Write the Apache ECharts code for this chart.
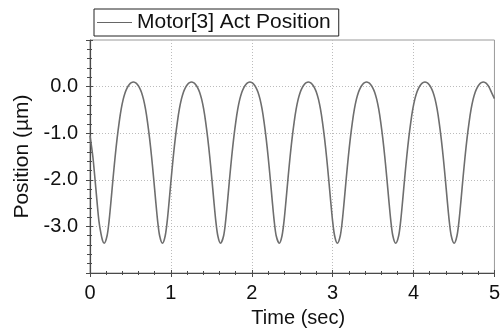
<!DOCTYPE html>
<html>
<head>
<meta charset="utf-8">
<script src="https://cdn.jsdelivr.net/npm/echarts@6/dist/echarts.min.js"></script>
<style>
  html, body { margin: 0; padding: 0; background: #fff; }
  #chart { width: 503px; height: 334px; }
</style>
</head>
<body>
<div id="chart"></div>
<script>
// Motor[3] actual position trace, sampled points (time in seconds, position in µm)
const timeSec = [
  0.000, 0.035, 0.060, 0.085, 0.110, 0.135, 0.155, 0.175,
  0.211, 0.236, 0.261, 0.286, 0.311, 0.336, 0.361, 0.386, 0.411, 0.436, 0.461, 0.486, 0.511, 0.536,
  0.561, 0.586, 0.611, 0.636, 0.661, 0.686, 0.711, 0.736, 0.761, 0.786, 0.811, 0.836, 0.861, 0.896,
  0.930, 0.955, 0.980, 1.005, 1.030, 1.055, 1.080, 1.105, 1.130, 1.155, 1.180, 1.205, 1.230, 1.255,
  1.280, 1.305, 1.330, 1.355, 1.380, 1.405, 1.430, 1.455, 1.480, 1.505, 1.530, 1.555, 1.580, 1.614,
  1.652, 1.677, 1.702, 1.727, 1.752, 1.777, 1.802, 1.827, 1.852, 1.877, 1.902, 1.927, 1.952, 1.977,
  2.002, 2.027, 2.052, 2.077, 2.102, 2.127, 2.152, 2.177, 2.202, 2.227, 2.252, 2.277, 2.302, 2.340,
  2.374, 2.399, 2.424, 2.449, 2.474, 2.499, 2.524, 2.549, 2.574, 2.599, 2.624, 2.649, 2.674, 2.699,
  2.724, 2.749, 2.774, 2.799, 2.824, 2.849, 2.874, 2.899, 2.924, 2.949, 2.974, 2.999, 3.024, 3.058,
  3.094, 3.119, 3.144, 3.169, 3.194, 3.219, 3.244, 3.269, 3.294, 3.319, 3.344, 3.369, 3.394, 3.419,
  3.444, 3.469, 3.494, 3.519, 3.544, 3.569, 3.594, 3.619, 3.644, 3.669, 3.694, 3.719, 3.744, 3.779,
  3.816, 3.841, 3.866, 3.891, 3.916, 3.941, 3.966, 3.991, 4.016, 4.041, 4.066, 4.091, 4.116, 4.141,
  4.166, 4.191, 4.216, 4.241, 4.266, 4.291, 4.316, 4.341, 4.366, 4.391, 4.416, 4.441, 4.466, 4.502,
  4.537, 4.562, 4.587, 4.612, 4.637, 4.662, 4.687, 4.712, 4.737, 4.762, 4.787, 4.812, 4.837, 4.862,
  4.887, 4.912, 4.937, 4.962, 5.000
];
const positionUm = [
  -1.05, -1.50, -1.95, -2.43, -2.88, -3.15, -3.30, -3.36,
  -3.20, -2.88, -2.43, -1.95, -1.50, -1.10, -0.76, -0.48, -0.27, -0.12, -0.02, 0.045, 0.085, 0.10,
  0.085, 0.045, -0.02, -0.12, -0.27, -0.48, -0.76, -1.10, -1.50, -1.95, -2.43, -2.88, -3.20, -3.36,
  -3.20, -2.88, -2.43, -1.95, -1.50, -1.10, -0.76, -0.48, -0.27, -0.12, -0.02, 0.045, 0.085, 0.10,
  0.085, 0.045, -0.02, -0.12, -0.27, -0.48, -0.76, -1.10, -1.50, -1.95, -2.43, -2.88, -3.20, -3.36,
  -3.20, -2.88, -2.43, -1.95, -1.50, -1.10, -0.76, -0.48, -0.27, -0.12, -0.02, 0.045, 0.085, 0.10,
  0.085, 0.045, -0.02, -0.12, -0.27, -0.48, -0.76, -1.10, -1.50, -1.95, -2.43, -2.88, -3.20, -3.36,
  -3.20, -2.88, -2.43, -1.95, -1.50, -1.10, -0.76, -0.48, -0.27, -0.12, -0.02, 0.045, 0.085, 0.10,
  0.085, 0.045, -0.02, -0.12, -0.27, -0.48, -0.76, -1.10, -1.50, -1.95, -2.43, -2.88, -3.20, -3.36,
  -3.20, -2.88, -2.43, -1.95, -1.50, -1.10, -0.76, -0.48, -0.27, -0.12, -0.02, 0.045, 0.085, 0.10,
  0.085, 0.045, -0.02, -0.12, -0.27, -0.48, -0.76, -1.10, -1.50, -1.95, -2.43, -2.88, -3.20, -3.36,
  -3.20, -2.88, -2.43, -1.95, -1.50, -1.10, -0.76, -0.48, -0.27, -0.12, -0.02, 0.045, 0.085, 0.10,
  0.085, 0.045, -0.02, -0.12, -0.27, -0.48, -0.76, -1.10, -1.50, -1.95, -2.43, -2.88, -3.20, -3.36,
  -3.20, -2.88, -2.43, -1.95, -1.50, -1.10, -0.76, -0.48, -0.27, -0.12, -0.02, 0.045, 0.085, 0.10,
  0.085, 0.045, -0.02, -0.12, -0.26
];
const seriesName = 'Motor[3] Act Position';
const xTitle = 'Time (sec)';
const yTitle = 'Position (µm)';
const yLabelValues = [0, -1, -2, -3];

const FONT = '"Liberation Sans", Arial, sans-serif';
const AXIS_COLOR = '#4a4a4a';

const points = timeSec.map((t, i) => [t, positionUm[i]]);

// each axis is drawn twice so the ticks cross the axis line (outside + inside)
function xAxisPair() {
  const base = { type: 'value', min: 0, max: 5, interval: 1, position: 'bottom' };
  return [
    Object.assign({}, base, {
      name: xTitle, nameLocation: 'middle', nameGap: 35,
      nameTextStyle: { fontFamily: FONT, fontSize: 20, color: '#111', padding: [0, 0, 0, 12] },
      axisLine: { onZero: false, lineStyle: { color: AXIS_COLOR, width: 1.2 } },
      axisTick: { inside: false, length: 4, lineStyle: { color: AXIS_COLOR } },
      minorTick: { show: true, splitNumber: 5, length: 2, lineStyle: { color: AXIS_COLOR } },
      axisLabel: { margin: 10, fontFamily: FONT, fontSize: 20, color: '#111',
        formatter: v => String(v) },
      splitLine: { show: true, showMinLine: false, showMaxLine: false,
        lineStyle: { color: '#bcbcbc', type: [1, 2], width: 1 } }
    }),
    Object.assign({}, base, {
      axisLine: { show: false, onZero: false },
      axisTick: { inside: true, length: 3, lineStyle: { color: AXIS_COLOR } },
      minorTick: { show: true, splitNumber: 5, length: 2, lineStyle: { color: AXIS_COLOR } },
      axisLabel: { show: false },
      splitLine: { show: false }
    })
  ];
}

function yAxisPair() {
  const base = { type: 'value', min: -4, max: 1, interval: 1, position: 'left' };
  return [
    Object.assign({}, base, {
      name: yTitle, nameLocation: 'middle', nameGap: 57,
      nameTextStyle: { fontFamily: FONT, fontSize: 21, color: '#111' },
      axisLine: { onZero: false, lineStyle: { color: AXIS_COLOR, width: 1.2 } },
      axisTick: { inside: false, length: 4, lineStyle: { color: AXIS_COLOR } },
      minorTick: { show: true, splitNumber: 5, length: 3, lineStyle: { color: AXIS_COLOR } },
      axisLabel: { margin: 12, fontFamily: FONT, fontSize: 20, color: '#111',
        formatter: v => yLabelValues.indexOf(v) >= 0 ? v.toFixed(1) : '' },
      splitLine: { show: true, showMinLine: false, showMaxLine: false,
        lineStyle: { color: '#bcbcbc', type: [1, 2], width: 1 } }
    }),
    Object.assign({}, base, {
      axisLine: { show: false, onZero: false },
      axisTick: { inside: true, length: 3, lineStyle: { color: AXIS_COLOR } },
      minorTick: { show: true, splitNumber: 5, length: 2, lineStyle: { color: AXIS_COLOR } },
      axisLabel: { show: false },
      splitLine: { show: false }
    })
  ];
}

const chart = echarts.init(document.getElementById('chart'), null, { renderer: 'canvas' });
chart.setOption({
  animation: false,
  backgroundColor: '#fff',
  grid: {
    left: 90, right: 4, top: 40, bottom: 61,
    show: true, borderColor: '#9a9a9a', borderWidth: 1, backgroundColor: 'transparent'
  },
  legend: {
    data: [seriesName],
    left: 94, top: 9,
    padding: [3, 8, 3, 3],
    borderColor: '#222', borderWidth: 1, backgroundColor: '#fff',
    icon: 'rect', itemWidth: 35, itemHeight: 1.2,
    itemStyle: { color: '#666' },
    textStyle: { fontFamily: FONT, fontSize: 21, color: '#111' }
  },
  xAxis: xAxisPair(),
  yAxis: yAxisPair(),
  series: [{
    name: seriesName,
    type: 'line',
    xAxisIndex: 0, yAxisIndex: 0,
    data: points,
    showSymbol: false, symbol: 'none',
    smooth: 0.3,
    lineStyle: { color: '#6e6e6e', width: 1.6 },
    itemStyle: { color: '#6e6e6e' }
  }]
});
</script>
</body>
</html>
